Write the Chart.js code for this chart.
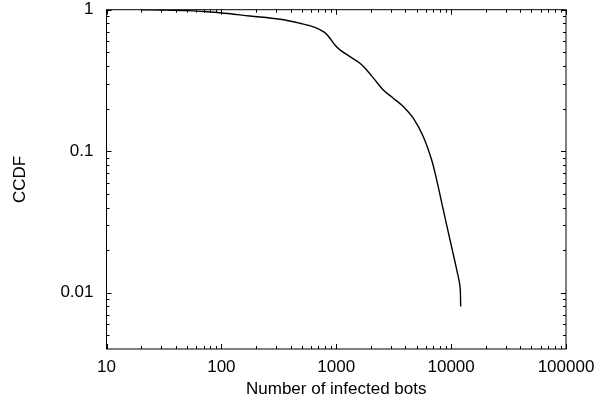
<!DOCTYPE html>
<html>
<head>
<meta charset="utf-8">
<script src="https://cdn.jsdelivr.net/npm/chart.js@4/dist/chart.umd.min.js"></script>
<style>
  html, body { margin: 0; padding: 0; background: #fff; }
  #wrap { width: 610px; height: 409px; }
</style>
</head>
<body>
<div id="wrap"><canvas id="ccdf"></canvas></div>
<script>
// values (log-log)
const bots = [20, 30, 50, 70, 97, 177, 324, 483, 653, 797, 881, 974, 1077, 1316, 1608, 1839, 2172, 2566, 3134, 3829, 4680, 5717, 6761, 7475, 8537, 9767, 11170, 11940, 12110]
const ccdf = [1, 0.995, 0.985, 0.97, 0.952, 0.903, 0.856, 0.802, 0.751, 0.688, 0.628, 0.563, 0.52, 0.466, 0.418, 0.375, 0.319, 0.271, 0.237, 0.207, 0.171, 0.127, 0.0869, 0.0629, 0.0386, 0.0237, 0.0146, 0.0111, 0.008]
const xTicks = [10, 100, 1000, 10000, 100000]
const xTickLabels = ['10', '100', '1000', '10000', '100000']
const yTicks = [0.01, 0.1, 1]
const yTickLabels = ['0.01', '0.1', '1']

const FONT = {family: '"Liberation Sans", Arial, Helvetica, sans-serif', size: 17}

// minor positions 2..9 in each decade
function minorsBetween(lo, hi) {
  const out = []
  for (let d = Math.floor(Math.log10(lo)); d < Math.ceil(Math.log10(hi)); d++) {
    for (let m = 2; m <= 9; m++) {
      const v = m * Math.pow(10, d)
      if (v > lo && v < hi) out.push(v)
    }
  }
  return out
}

const frame = {
  id: 'frame',
  afterDraw(chart) {
    const {ctx, chartArea: a, scales: {x, y}} = chart
    ctx.save()
    ctx.strokeStyle = '#000'
    ctx.lineWidth = 1
    ctx.strokeRect(a.left, a.top, a.right - a.left, a.bottom - a.top)
    ctx.beginPath()
    const tickX = (v, len) => {
      const px = Math.round(x.getPixelForValue(v)) + 0.5
      ctx.moveTo(px, a.bottom); ctx.lineTo(px, a.bottom - len)
      ctx.moveTo(px, a.top); ctx.lineTo(px, a.top + len)
    }
    const tickY = (v, len) => {
      const py = Math.round(y.getPixelForValue(v)) + 0.5
      ctx.moveTo(a.left, py); ctx.lineTo(a.left + len, py)
      ctx.moveTo(a.right, py); ctx.lineTo(a.right - len, py)
    }
    xTicks.forEach(v => tickX(v, 5))
    minorsBetween(x.min, x.max).forEach(v => tickX(v, 3))
    yTicks.forEach(v => tickY(v, 5))
    minorsBetween(y.min, y.max).forEach(v => tickY(v, 3))
    ctx.stroke()
    ctx.restore()
  },
}

new Chart(document.getElementById('ccdf'), {
  type: 'line',
  data: {
    datasets: [{
      data: bots.map((b, i) => ({x: b, y: ccdf[i]})),
      borderColor: '#000',
      borderWidth: 1.4,
      pointRadius: 0,
      fill: false,
      tension: 0.35,
    }],
  },
  options: {
    responsive: true,
    maintainAspectRatio: false,
    animation: false,
    events: [],
    layout: {padding: {top: 9.7, right: 44, left: 0, bottom: 0}},
    plugins: {legend: {display: false}, tooltip: {enabled: false}},
    scales: {
      x: {
        type: 'logarithmic',
        min: 10,
        max: 100000,
        afterBuildTicks: s => { s.ticks = xTicks.map(v => ({value: v})) },
        afterFit: s => { s.height = 60; s.paddingLeft = 0; s.paddingRight = 0 },
        grid: {display: false},
        border: {display: false},
        ticks: {
          color: '#000',
          font: FONT,
          padding: 0,
          maxRotation: 0,
          autoSkip: false,
          callback: v => xTickLabels[xTicks.indexOf(v)] ?? '',
        },
        title: {
          display: true,
          text: 'Number of infected bots',
          color: '#000',
          font: FONT,
          padding: {top: 0, bottom: 9},
        },
      },
      y: {
        type: 'logarithmic',
        min: 0.004,
        max: 1,
        afterBuildTicks: s => { s.ticks = yTicks.map(v => ({value: v})) },
        afterFit: s => { s.width = 106.5; s.paddingTop = 0; s.paddingBottom = 0 },
        grid: {display: false},
        border: {display: false},
        ticks: {
          color: '#000',
          font: FONT,
          padding: 5,
          autoSkip: false,
          callback: v => yTickLabels[yTicks.findIndex(t => Math.abs(t - v) < 1e-9)] ?? '',
        },
        title: {
          display: true,
          text: 'CCDF',
          color: '#000',
          font: FONT,
          padding: {top: 10, bottom: 0},
        },
      },
    },
  },
  plugins: [frame],
})
</script>
</body>
</html>
